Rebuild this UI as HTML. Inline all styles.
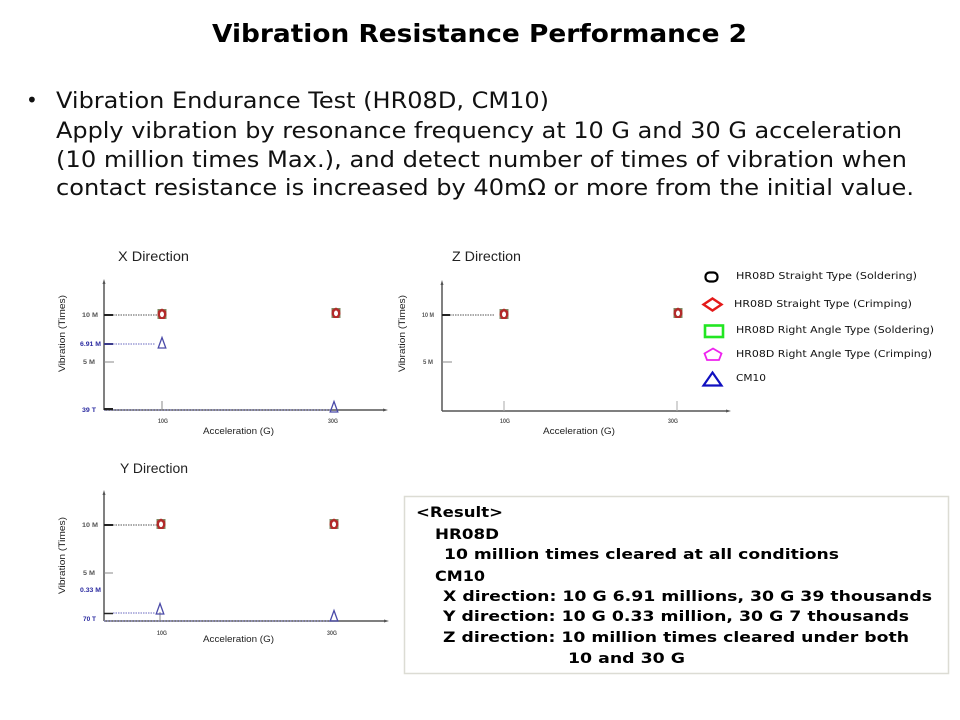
<!DOCTYPE html>
<html>
<head>
<meta charset="utf-8">
<style>
  html, body { margin:0; padding:0; background:#fff; }
  svg { display:block; }
</style>
</head>
<body>
<svg width="960" height="720" viewBox="0 0 960 720" xmlns="http://www.w3.org/2000/svg">
  <defs>
    <g id="mk">
      <rect x="-4.5" y="-5" width="9" height="10" fill="#7d8a62"/>
      <polygon points="0,-5.5 4,-3 4.5,1 2.5,5 -2.5,5 -4.5,1 -4,-3" fill="#b22a2a"/>
      <ellipse cx="0" cy="0.3" rx="2" ry="2.8" fill="#fff"/>
    </g>
    <g id="tri">
      <polygon points="0,-5.5 3.8,5 -3.8,5" fill="none" stroke="#4a4aa8" stroke-width="1.3"/>
    </g>
  </defs>

  <!-- Title -->
  <text x="212" y="42" font-family="DejaVu Sans, Liberation Sans, sans-serif" font-weight="bold" font-size="24.5" textLength="535" lengthAdjust="spacingAndGlyphs" fill="#000">Vibration Resistance Performance 2</text>

  <!-- Bullet text -->
  <g font-family="DejaVu Sans, Liberation Sans, sans-serif" font-size="22.5" fill="#111">
    <text x="26" y="107" font-size="20">•</text>
    <text x="56" y="108" textLength="493" lengthAdjust="spacingAndGlyphs">Vibration Endurance Test (HR08D, CM10)</text>
    <text x="56" y="138" textLength="846" lengthAdjust="spacingAndGlyphs">Apply vibration by resonance frequency at 10 G and 30 G acceleration</text>
    <text x="56" y="167" textLength="851" lengthAdjust="spacingAndGlyphs">(10 million times Max.), and detect number of times of vibration when</text>
    <text x="56" y="195" textLength="858" lengthAdjust="spacingAndGlyphs">contact resistance is increased by 40mΩ or more from the initial value.</text>
  </g>

  <!-- ============ X Direction chart ============ -->
  <g font-family="Liberation Sans, DejaVu Sans, sans-serif">
    <text x="118" y="261" font-size="13.5" fill="#222" textLength="71" lengthAdjust="spacingAndGlyphs">X Direction</text>
    <line x1="104" y1="283" x2="104" y2="410" stroke="#555" stroke-width="1.5"/>
    <polygon points="104,279 102.5,284 105.5,284" fill="#555"/>
    <line x1="104" y1="410" x2="385" y2="410" stroke="#555" stroke-width="1.5"/>
    <polygon points="388,410 383,408.5 383,411.5" fill="#555"/>
    <line x1="104" y1="410" x2="332" y2="410" stroke="#8a8ac8" stroke-width="1.2" stroke-dasharray="1.5,1.5"/>
    <line x1="104" y1="315" x2="113" y2="315" stroke="#222" stroke-width="2"/>
    <line x1="104" y1="344" x2="113" y2="344" stroke="#3a3a8a" stroke-width="2"/>
    <line x1="104" y1="362" x2="114" y2="362" stroke="#888" stroke-width="1"/>
    <line x1="104" y1="409" x2="113" y2="409" stroke="#222" stroke-width="2"/>
    <line x1="162" y1="401" x2="162" y2="410" stroke="#888" stroke-width="1"/>
    <line x1="113" y1="315" x2="157" y2="315" stroke="#555" stroke-width="1" stroke-dasharray="1.5,1"/>
    <line x1="113" y1="344" x2="155" y2="344" stroke="#6a6ac0" stroke-width="1" stroke-dasharray="1.5,1"/>
    <g font-size="6" font-weight="bold">
      <text x="82" y="317" fill="#555" textLength="16" lengthAdjust="spacingAndGlyphs">10 M</text>
      <text x="80" y="346" fill="#2a2aa0" textLength="21" lengthAdjust="spacingAndGlyphs">6.91 M</text>
      <text x="83" y="364" fill="#555" textLength="12" lengthAdjust="spacingAndGlyphs">5 M</text>
      <text x="82" y="412" fill="#2a2aa0" textLength="14" lengthAdjust="spacingAndGlyphs">39 T</text>
      <text x="158" y="423" fill="#555" textLength="10" lengthAdjust="spacingAndGlyphs">10G</text>
      <text x="328" y="423" fill="#555" textLength="10" lengthAdjust="spacingAndGlyphs">30G</text>
    </g>
    <text x="203" y="434" font-size="9.5" fill="#222" textLength="71" lengthAdjust="spacingAndGlyphs">Acceleration (G)</text>
    <text transform="translate(65,372) rotate(-90)" font-size="9.5" fill="#222" textLength="77" lengthAdjust="spacingAndGlyphs">Vibration (Times)</text>
    <use href="#mk" x="162" y="314"/>
    <use href="#mk" x="336" y="313"/>
    <use href="#tri" x="162" y="343"/>
    <use href="#tri" x="334" y="407"/>
  </g>

  <!-- ============ Z Direction chart ============ -->
  <g font-family="Liberation Sans, DejaVu Sans, sans-serif">
    <text x="452" y="261" font-size="13.5" fill="#222" textLength="69" lengthAdjust="spacingAndGlyphs">Z Direction</text>
    <line x1="442" y1="284" x2="442" y2="411" stroke="#555" stroke-width="1.5"/>
    <polygon points="442,280 440.5,285 443.5,285" fill="#555"/>
    <line x1="442" y1="411" x2="727" y2="411" stroke="#555" stroke-width="1.5"/>
    <polygon points="731,411 726,409.5 726,412.5" fill="#555"/>
    <line x1="442" y1="315" x2="450" y2="315" stroke="#222" stroke-width="2"/>
    <line x1="442" y1="362" x2="452" y2="362" stroke="#888" stroke-width="1"/>
    <line x1="504" y1="401" x2="504" y2="411" stroke="#aaa" stroke-width="1"/>
    <line x1="677" y1="401" x2="677" y2="411" stroke="#aaa" stroke-width="1"/>
    <line x1="450" y1="315" x2="495" y2="315" stroke="#555" stroke-width="1" stroke-dasharray="1.5,1"/>
    <g font-size="6" font-weight="bold" fill="#555">
      <text x="422" y="317" textLength="12" lengthAdjust="spacingAndGlyphs">10 M</text>
      <text x="423" y="364" textLength="10" lengthAdjust="spacingAndGlyphs">5 M</text>
      <text x="500" y="423" textLength="10" lengthAdjust="spacingAndGlyphs">10G</text>
      <text x="668" y="423" textLength="10" lengthAdjust="spacingAndGlyphs">30G</text>
    </g>
    <text x="543" y="434" font-size="9.5" fill="#222" textLength="72" lengthAdjust="spacingAndGlyphs">Acceleration (G)</text>
    <text transform="translate(405,372) rotate(-90)" font-size="9.5" fill="#222" textLength="77" lengthAdjust="spacingAndGlyphs">Vibration (Times)</text>
    <use href="#mk" x="504" y="314"/>
    <use href="#mk" x="678" y="313"/>
  </g>

  <!-- ============ Y Direction chart ============ -->
  <g font-family="Liberation Sans, DejaVu Sans, sans-serif">
    <text x="120" y="473" font-size="13.5" fill="#222" textLength="68" lengthAdjust="spacingAndGlyphs">Y Direction</text>
    <line x1="104" y1="494" x2="104" y2="621" stroke="#555" stroke-width="1.5"/>
    <polygon points="104,490 102.5,495 105.5,495" fill="#555"/>
    <line x1="104" y1="621" x2="385" y2="621" stroke="#555" stroke-width="1.5"/>
    <polygon points="389,621 384,619.5 384,622.5" fill="#555"/>
    <line x1="104" y1="621" x2="330" y2="621" stroke="#8a8ac8" stroke-width="1.2" stroke-dasharray="1.5,1.5"/>
    <line x1="104" y1="525" x2="113" y2="525" stroke="#222" stroke-width="2"/>
    <line x1="104" y1="573" x2="113" y2="573" stroke="#888" stroke-width="1"/>
    <line x1="104" y1="613.5" x2="113" y2="613.5" stroke="#222" stroke-width="1.5"/>
    <line x1="160" y1="612" x2="160" y2="621" stroke="#888" stroke-width="1"/>
    <line x1="113" y1="525" x2="157" y2="525" stroke="#555" stroke-width="1" stroke-dasharray="1.5,1"/>
    <line x1="113" y1="613" x2="155" y2="613" stroke="#6a6ac0" stroke-width="1" stroke-dasharray="1.5,1"/>
    <g font-size="6" font-weight="bold">
      <text x="82" y="527" fill="#555" textLength="16" lengthAdjust="spacingAndGlyphs">10 M</text>
      <text x="83" y="575" fill="#555" textLength="12" lengthAdjust="spacingAndGlyphs">5 M</text>
      <text x="80" y="592" fill="#2a2aa0" textLength="21" lengthAdjust="spacingAndGlyphs">0.33 M</text>
      <text x="83" y="621" fill="#2a2aa0" textLength="13" lengthAdjust="spacingAndGlyphs">70 T</text>
      <text x="157" y="635" fill="#555" textLength="10" lengthAdjust="spacingAndGlyphs">10G</text>
      <text x="327" y="635" fill="#555" textLength="10" lengthAdjust="spacingAndGlyphs">30G</text>
    </g>
    <text x="203" y="642" font-size="9.5" fill="#222" textLength="71" lengthAdjust="spacingAndGlyphs">Acceleration (G)</text>
    <text transform="translate(65,594) rotate(-90)" font-size="9.5" fill="#222" textLength="77" lengthAdjust="spacingAndGlyphs">Vibration (Times)</text>
    <use href="#mk" x="161" y="524"/>
    <use href="#mk" x="334" y="524"/>
    <use href="#tri" x="160" y="609"/>
    <use href="#tri" x="334" y="616"/>
  </g>

  <!-- ============ Legend ============ -->
  <g>
    <rect x="705.5" y="272.5" width="12" height="9" rx="4" ry="4" fill="none" stroke="#000" stroke-width="2.2"/>
    <polygon points="712.5,298.5 721.5,304.5 712.5,310.5 703.5,304.5" fill="none" stroke="#e41a1a" stroke-width="2.4"/>
    <rect x="705" y="325.5" width="18" height="11.5" fill="none" stroke="#22e622" stroke-width="2.6"/>
    <polygon points="713,348.5 721.5,353.5 719,360 707,360 704.5,353.5" fill="none" stroke="#ee22ee" stroke-width="1.8"/>
    <polygon points="712.5,372.5 721.5,385.5 703.5,385.5" fill="none" stroke="#1010c0" stroke-width="2.2"/>
    <g font-family="DejaVu Sans, Liberation Sans, sans-serif" font-size="10" fill="#111">
      <text x="736" y="279" textLength="181" lengthAdjust="spacingAndGlyphs">HR08D Straight Type (Soldering)</text>
      <text x="734" y="307" textLength="178" lengthAdjust="spacingAndGlyphs">HR08D Straight Type (Crimping)</text>
      <text x="736" y="333" textLength="198" lengthAdjust="spacingAndGlyphs">HR08D Right Angle Type (Soldering)</text>
      <text x="736" y="357" textLength="196" lengthAdjust="spacingAndGlyphs">HR08D Right Angle Type (Crimping)</text>
      <text x="736" y="381" textLength="30" lengthAdjust="spacingAndGlyphs">CM10</text>
    </g>
  </g>

  <!-- ============ Result box ============ -->
  <rect x="404.5" y="496.5" width="544" height="177" fill="#fff" stroke="#dcdcd4" stroke-width="1.5"/>
  <g font-family="DejaVu Sans, Liberation Sans, sans-serif" font-weight="bold" font-size="14.5" fill="#000">
    <text x="416" y="517" textLength="87" lengthAdjust="spacingAndGlyphs">&lt;Result&gt;</text>
    <text x="435" y="539" textLength="64" lengthAdjust="spacingAndGlyphs">HR08D</text>
    <text x="444" y="559" textLength="395" lengthAdjust="spacingAndGlyphs">10 million times cleared at all conditions</text>
    <text x="435" y="581" textLength="50" lengthAdjust="spacingAndGlyphs">CM10</text>
    <text x="443" y="601" textLength="489" lengthAdjust="spacingAndGlyphs">X direction: 10 G 6.91 millions, 30 G 39 thousands</text>
    <text x="443" y="621" textLength="466" lengthAdjust="spacingAndGlyphs">Y direction: 10 G 0.33 million, 30 G 7 thousands</text>
    <text x="443" y="642" textLength="466" lengthAdjust="spacingAndGlyphs">Z direction: 10 million times cleared under both</text>
    <text x="568" y="663" textLength="117" lengthAdjust="spacingAndGlyphs">10 and 30 G</text>
  </g>
</svg>
</body>
</html>
